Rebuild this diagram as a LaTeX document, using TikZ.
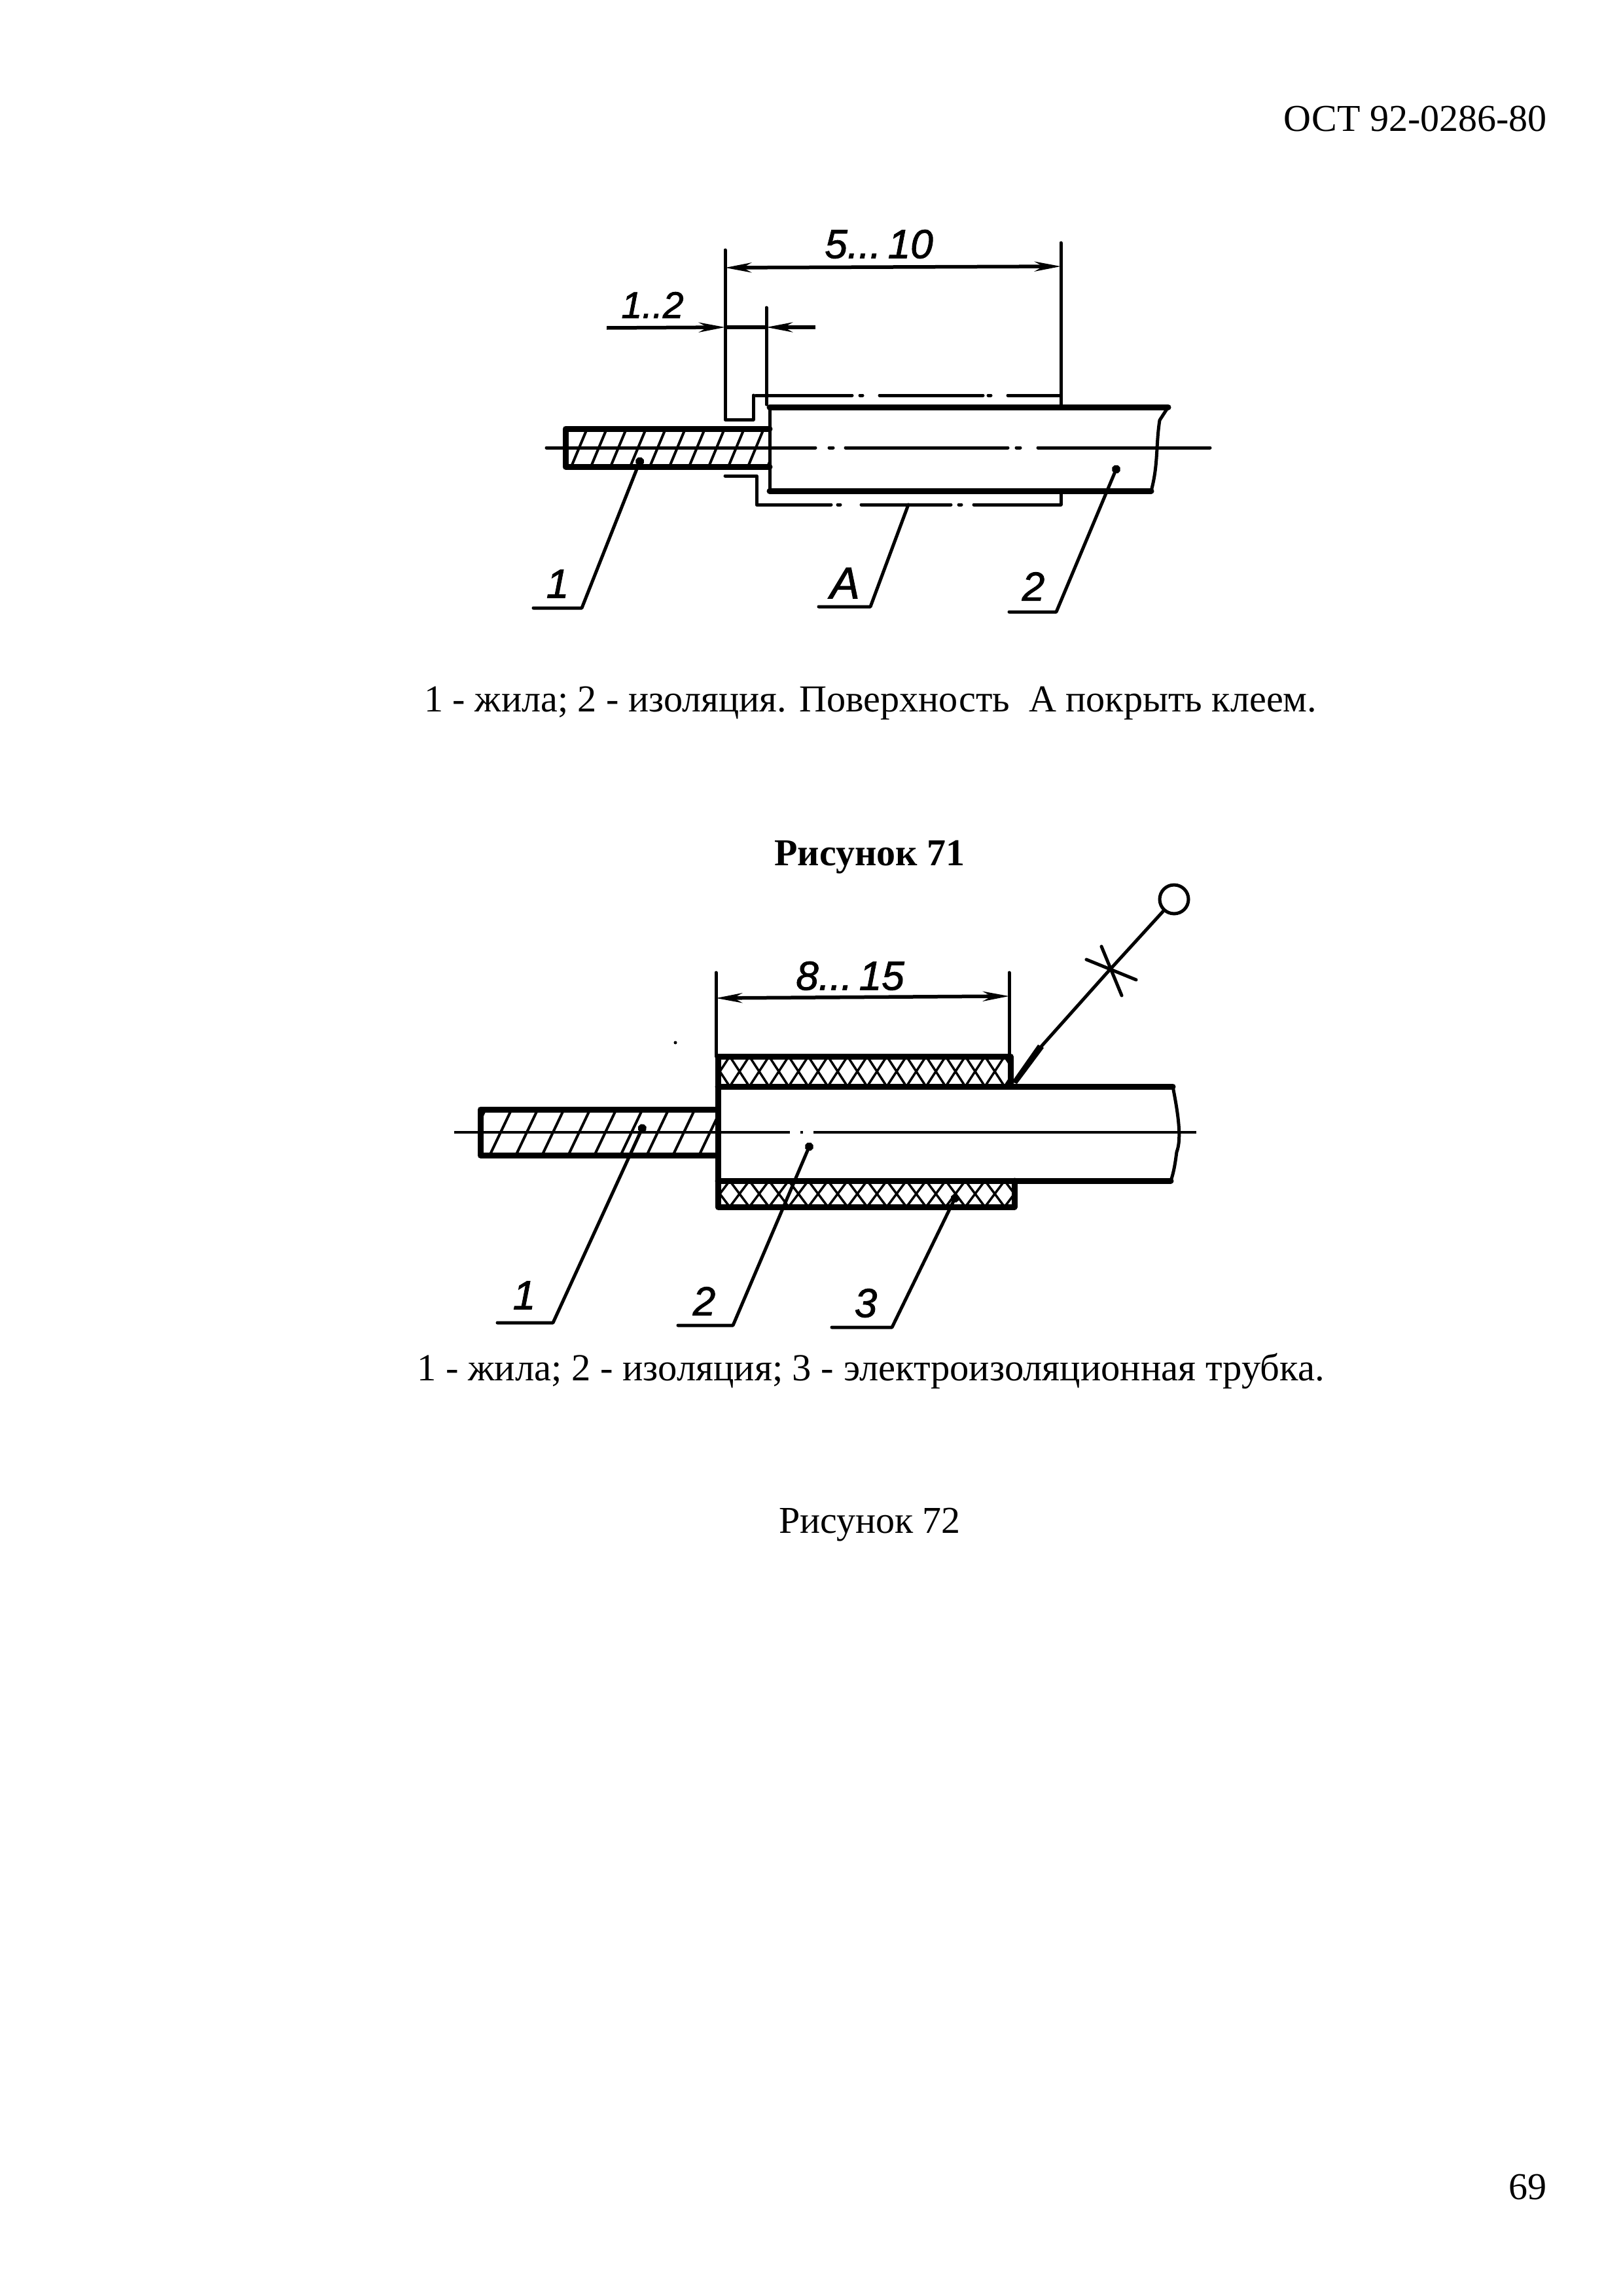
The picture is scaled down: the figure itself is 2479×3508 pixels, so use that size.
\documentclass[tikz,border=0pt]{standalone}
\usepackage{fontspec}
\setmainfont{Liberation Serif}
\newfontfamily\handfont[FakeBold=1.5]{Liberation Sans}
\usetikzlibrary{arrows.meta}
\tikzset{
  x=1pt,y=-1pt,
  thin line/.style={line width=5pt,line cap=round,line join=round},
  thick line/.style={line width=9pt,line cap=round,line join=round},
  hatch line/.style={line width=4pt},
  cross line/.style={line width=3.5pt},
  dim line/.style={line width=5.5pt},
  dim tip/.style={-{Stealth[length=40pt,width=15pt]}},
  dim tips/.style={{Stealth[length=40pt,width=15pt]}-{Stealth[length=40pt,width=15pt]}},
  dot tip/.style={{Circle[length=13pt,width=13pt]}-},
  body text/.style={font=\fontsize{58}{64}\selectfont,inner sep=0pt},
  hand text/.style={font=\fontsize{62}{66}\selectfont\handfont\itshape,inner sep=0pt},
}
\begin{document}
\begin{tikzpicture}
\useasboundingbox (0,0) rectangle (2479,3508);
\fill[white] (0,0) rectangle (2479,3508);
% ---- texts
\node[body text,anchor=base east] (hdr) at (2364,201) {ОСТ 92-0286-80};
\node[body text,anchor=base west,font=\fontsize{58.2}{64}\selectfont] (cap71) at (648,1087) {1 - жила; 2 - изоляция. Поверхность\ \ А покрыть клеем.};
\node[body text,anchor=base,font=\fontsize{58}{64}\selectfont\bfseries] (fig71) at (1329,1322) {Рисунок 71};
\node[body text,anchor=base west,font=\fontsize{58.6}{64}\selectfont] (cap72) at (637,2109) {1 - жила; 2 - изоляция; 3 - электроизоляционная трубка.};
\node[body text,anchor=base] (fig72) at (1329,2342) {Рисунок 72};
\node[body text,anchor=base east] (pg) at (2364,3360) {69};

% ======== Figure 71
\begin{scope}
\clip (864,655) rectangle (1176,713);
\foreach \i in {0,...,11} \draw[hatch line] ({840+\i*30},720) -- ({870+\i*30},648);
\end{scope}
\draw[thick line] (1176,655) -- (864,655) -- (864,713) -- (1176,713);
% insulation
\draw[thick line] (1176,622) -- (1785,622);
\draw[thick line] (1176,750) -- (1759,750);
\draw[thin line] (1176,622) -- (1176,750);
\draw[thin line] (1785,622) -- (1772,642) .. controls (1766,680) and (1770,710) .. (1759,750);
% centre line
\foreach \a/\b in {835/1246,1267/1273,1292/1540,1553/1559,1586/1849}
  \draw[thin line] (\a,684) -- (\b,684);
% extension and dimension lines
\coordinate (e1t) at (1108,382);
\coordinate (e1b) at (1108,641);
\coordinate (e2t) at (1621,371);
\coordinate (e2b) at (1621,622);
\coordinate (e3t) at (1171,470);
\coordinate (e3b) at (1171,618);
\draw[thin line] (e1t) -- (e1b) -- (1151,641) -- (1151,604);
\draw[thin line] (e2t) -- (e2b);
\draw[thin line] (e3t) -- (e3b);
\foreach \a/\b in {1155/1302,1314/1318,1344/1502,1510/1514,1540/1621}
  \draw[thin line] (\a,604) -- (\b,604);
\draw[dim line,dim tips] (1108,409) -- (1621,407);
\coordinate (d1) at (927,501);
\coordinate (d2) at (1246,500);
\draw[dim line,dim tip] (d1) -- (1108,500);
\draw[dim line,dim tip] (d2) -- (1171,500);
\draw[dim line] (1108,500) -- (1171,500);
\node[hand text] (t510) at (1343,373) {5...\,10};
\node[hand text,font=\fontsize{57}{60}\selectfont\handfont\itshape] (t12) at (997,466) {1..2};
% lower glue line
\draw[thin line] (1108,727) -- (1156,727) -- (1156,771) -- (1270,771);
\foreach \a/\b in {1280/1284,1316/1453,1465/1469,1488/1621}
  \draw[thin line] (\a,771) -- (\b,771);
\draw[thin line] (1621,771) -- (1621,750);
% leaders
\coordinate (l1a) at (980,699); \coordinate (l1b) at (889,929); \coordinate (l1c) at (815,929);
\coordinate (lAa) at (1388,771); \coordinate (lAb) at (1330,927); \coordinate (lAc) at (1251,927);
\coordinate (l2a) at (1708,711); \coordinate (l2b) at (1614,935); \coordinate (l2c) at (1542,935);
\draw[thin line,dot tip] (l1a) -- (l1b) -- (l1c);
\draw[thin line] (lAa) -- (lAb) -- (lAc);
\draw[thin line,dot tip] (l2a) -- (l2b) -- (l2c);
\node[hand text] (n1) at (852,892) {1};
\node[hand text,font=\fontsize{68}{70}\selectfont\handfont\itshape] (nA) at (1291,891) {A};
\node[hand text] (n2) at (1579,896) {2};

% ======== Figure 72
\begin{scope}
\clip (734,1695) rectangle (1097,1765);
\foreach \i in {0,...,10} \draw[hatch line] ({705+\i*40},1772) -- ({745+\i*40},1688);
\end{scope}
\draw[thick line] (1097,1695) -- (734,1695) -- (734,1765) -- (1097,1765);
% sleeves crosshatch
\begin{scope}
\clip (1097,1614) rectangle (1542,1660);
\foreach \i in {0,...,15} {
  \draw[cross line] ({1085+\i*30},1660) -- ({1115+\i*30},1614);
  \draw[cross line] ({1115+\i*30},1660) -- ({1085+\i*30},1614);
}
\end{scope}
\begin{scope}
\clip (1097,1804) rectangle (1550,1844);
\foreach \i in {0,...,15} {
  \draw[cross line] ({1085+\i*30},1844) -- ({1115+\i*30},1804);
  \draw[cross line] ({1115+\i*30},1844) -- ({1085+\i*30},1804);
}
\end{scope}
\draw[thick line] (1097,1660) -- (1097,1614) -- (1544,1614) -- (1544,1660);
\draw[thick line] (1097,1804) -- (1097,1844) -- (1550,1844) -- (1550,1804);
% insulation
\draw[thick line] (1097,1660) -- (1792,1660);
\draw[thick line] (1097,1804) -- (1789,1804);
\draw[thick line] (1097,1660) -- (1097,1804);
\draw[thin line] (1792,1660) .. controls (1800,1700) and (1806,1740) .. (1798,1760) .. controls (1796,1775) and (1794,1790) .. (1789,1804);
% centre line
\foreach \a/\b in {694/1207,1223/1227,1243/1828}
  \draw[line width=4pt] (\a,1730) -- (\b,1730);
% dimensions
\coordinate (f1t) at (1094,1486);
\coordinate (f2t) at (1542,1486);
\draw[thin line] (f1t) -- (1094,1614);
\draw[thin line] (f2t) -- (1542,1614);
\draw[dim line,dim tips] (1094,1525) -- (1542,1522);
\node[hand text] (t815) at (1299,1491) {8...\,15};
% weld symbol
\node[draw,line width=5pt,circle,minimum size=44pt,inner sep=0pt] (weld) at (1794,1374) {};
\coordinate (w1) at (1590,1600);
\coordinate (wx) at (1690,1488);
\fill (1546,1653) -- (1586,1596) -- (1595,1601) -- (1554,1656) -- cycle;
\draw[thin line] (w1) -- (wx) -- (weld);
\draw[thin line] (1683,1446) -- (1714,1521);
\draw[thin line] (1660,1466) -- (1736,1497);
% leaders
\coordinate (m1a) at (984,1718); \coordinate (m1b) at (845,2021); \coordinate (m1c) at (760,2021);
\coordinate (m2a) at (1239,1746); \coordinate (m2b) at (1120,2025); \coordinate (m2c) at (1036,2025);
\coordinate (m3a) at (1462,1825); \coordinate (m3b) at (1363,2028); \coordinate (m3c) at (1271,2028);
\draw[thin line,dot tip] (m1a) -- (m1b) -- (m1c);
\draw[thin line,dot tip] (m2a) -- (m2b) -- (m2c);
\draw[thin line,dot tip] (m3a) -- (m3b) -- (m3c);
\node[hand text] (k1) at (801,1979) {1};
\node[hand text] (k2) at (1076,1988) {2};
\node[hand text] (k3) at (1323,1991) {3};
\fill (1032,1593) circle (2.5pt);
\end{tikzpicture}
\end{document}
